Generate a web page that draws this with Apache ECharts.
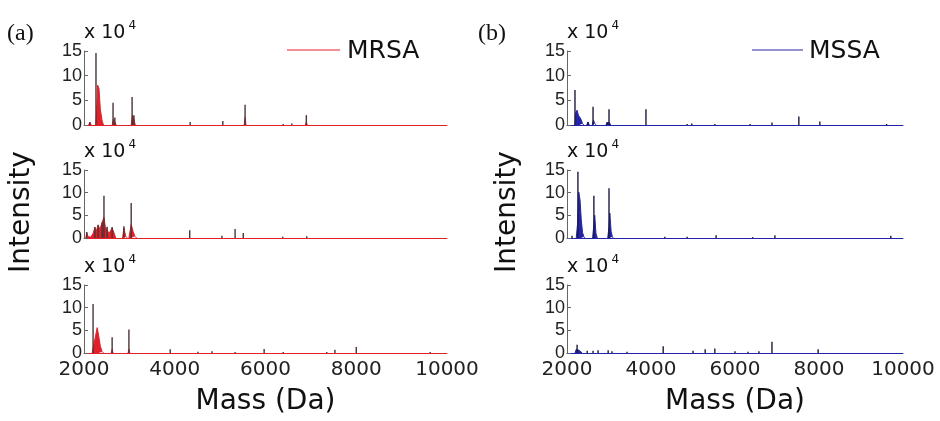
<!DOCTYPE html>
<html>
<head>
<meta charset="utf-8">
<script src="https://cdn.jsdelivr.net/npm/echarts@6/dist/echarts.min.js"></script>
<style>
html,body{margin:0;padding:0;background:#fff;}
#chart{width:940px;height:421px;}
</style>
</head>
<body>
<div id="chart"></div>
<script>
// ---- data (mass in Da, intensity in units of 1e4) ----
const xTicks = [2000, 4000, 6000, 8000, 10000];
const yTicks = [0, 5, 10, 15];
const panelLabels = ['(a)', '(b)'];
const seriesNames = ['MRSA', 'MSSA'];

// dark peak lines
const mrsa1Peaks = [[2130,0.6],[2264,14.6],[2640,4.5],[2680,1.5],[3060,5.7],[3100,2.0],[4340,0.6],[5060,0.8],[5550,4.1],[6390,0.2],[6580,0.3],[6900,2.0]];
const mrsa2Peaks = [[2060,1.3],[2240,2.4],[2310,2.9],[2400,3.5],[2440,9.3],[2510,2.5],[2620,2.4],[2880,2.6],[3040,7.7],[4330,1.7],[5040,0.5],[5330,2.0],[5510,1.1],[6380,0.3],[6910,0.4]];
const mrsa3Peaks = [[2200,10.8],[2620,3.5],[2990,5.2],[3900,0.8],[4510,0.3],[4820,0.4],[5330,0.2],[5970,0.9],[6390,0.2],[7350,0.2],[7530,0.7],[8000,1.3],[9630,0.2]];
const mssa1Peaks = [[2190,7.1],[2500,0.6],[2620,3.7],[2950,0.5],[3000,3.2],[3880,3.2],[4860,0.2],[4970,0.3],[5520,0.2],[6360,0.2],[6880,0.5],[7520,1.7],[8020,0.7],[9610,0.2]];
const mssa2Peaks = [[2120,0.5],[2260,14.6],[2640,9.3],[3000,11.0],[4330,0.3],[4860,0.3],[5550,0.6],[6420,0.2],[6950,0.6],[9710,0.5]];
const mssa3Peaks = [[2240,1.8],[2480,0.5],[2620,0.5],[2740,0.6],[2980,0.6],[3070,0.4],[3430,0.3],[4290,1.5],[5000,0.5],[5290,0.8],[5520,1.0],[6000,0.4],[6310,0.3],[6570,0.4],[6880,2.5],[7980,0.8]];

// coloured filled clusters of the spectra
const mrsa1Fill = [
  [[2100,0],[2130,0.5],[2160,0]],
  [[2260,0],[2280,3],[2300,8.1],[2330,7.4],[2360,3.2],[2400,0.8],[2430,0]],
  [[2620,0],[2650,1.2],[2680,1.5],[2710,0]],
  [[3040,0],[3070,2.0],[3100,1.2],[3130,0]],
  [[5530,0],[5550,1.5],[5570,0]],
  [[6880,0],[6900,0.6],[6920,0]]
];
const mrsa2Fill = [
  [[2040,0],[2060,1.2],[2090,0.3],[2150,0.2],[2200,1.0],[2240,2.3],[2270,1.5],[2310,2.8],[2350,2.0],[2400,3.4],[2440,4.6],[2470,2.5],[2510,2.4],[2550,1.0],[2590,0.8],[2620,2.2],[2660,1.2],[2700,0]],
  [[2850,0],[2880,2.2],[2920,0.3],[2960,0]],
  [[2990,0],[3040,3.0],[3080,1.5],[3120,0.4],[3160,0]]
];
const mrsa3Fill = [
  [[2180,0],[2210,1.5],[2250,3.5],[2290,5.6],[2320,4.0],[2360,1.5],[2400,0.3],[2430,0]],
  [[2600,0],[2620,0.8],[2640,0]],
  [[2970,0],[2990,0.8],[3010,0]]
];
const mssa1Fill = [
  [[2190,0],[2210,2.5],[2240,3.0],[2270,2.0],[2300,1.8],[2330,1.2],[2370,0.3],[2400,0]],
  [[2470,0],[2500,0.6],[2530,0]],
  [[2600,0],[2630,1.0],[2660,0.3],[2700,0]],
  [[2930,0],[2950,0.5],[2980,0.8],[3010,0.5],[3040,0]]
];
const mssa2Fill = [
  [[2220,0],[2250,3.0],[2280,10.1],[2310,8.4],[2340,4.0],[2370,1.2],[2400,0.3],[2420,0]],
  [[2610,0],[2640,3.0],[2660,5.0],[2690,1.0],[2720,0]],
  [[2970,0],[3000,2.5],[3020,5.5],[3050,1.5],[3080,0.3],[3100,0]]
];
const mssa3Fill = [
  [[2190,0],[2220,0.8],[2250,1.0],[2290,0.6],[2330,0.2],[2360,0]]
];

const peakSets = [mrsa1Peaks, mrsa2Peaks, mrsa3Peaks, mssa1Peaks, mssa2Peaks, mssa3Peaks];
const fillSets = [mrsa1Fill, mrsa2Fill, mrsa3Fill, mssa1Fill, mssa2Fill, mssa3Fill];

// ---- layout / style ----
const cols = [{left: 84, width: 363}, {left: 567, width: 336}];
const rows = [{top: 51, height: 74}, {top: 170, height: 68}, {top: 285, height: 68}];
const fillColors = ['#e3202a', '#2424a8'];
const stickColors = ['#4a3434', '#1c1c3c'];

const grid = [], xAxis = [], yAxis = [], series = [];
let gi = 0;
for (let c = 0; c < 2; c++) {
  for (let r = 0; r < 3; r++) {
    grid.push({left: cols[c].left, width: cols[c].width, top: rows[r].top, height: rows[r].height, containLabel: false});
    const bottom = r === 2;
    xAxis.push({
      gridIndex: gi, type: 'value', min: xTicks[0], max: xTicks[xTicks.length - 1], interval: 2000,
      axisLine: {show: true, lineStyle: {color: fillColors[c], width: 1}},
      axisTick: {show: false}, splitLine: {show: false},
      axisLabel: {show: bottom, fontFamily: 'DejaVu Sans', fontSize: 20, color: '#222', margin: 7,
        formatter: v => String(v)},
      name: bottom ? 'Mass (Da)' : '', nameLocation: 'middle', nameGap: 35,
      nameTextStyle: {fontFamily: 'DejaVu Sans', fontSize: 28, color: '#111'}
    });
    yAxis.push({
      gridIndex: gi, type: 'value', min: yTicks[0], max: yTicks[yTicks.length - 1], interval: 5,
      axisLine: {show: true, lineStyle: {color: '#666', width: 1}},
      axisTick: {show: true, inside: true, length: 4, lineStyle: {color: '#666'}},
      splitLine: {show: false},
      axisLabel: {fontFamily: 'Liberation Sans', fontSize: 18, color: '#222', margin: 2},
      name: '{a|x 10}{s|4}', nameLocation: 'end', nameGap: 6,
      nameTextStyle: {align: 'left', verticalAlign: 'bottom',
        rich: {a: {fontFamily: 'DejaVu Sans', fontSize: 19, color: '#111', lineHeight: 22, verticalAlign: 'bottom'},
               s: {fontFamily: 'DejaVu Sans', fontSize: 12, color: '#111', lineHeight: 22, verticalAlign: 'top', padding: [0, 0, 0, 3]}}}
    });
    fillSets[gi].forEach(cluster => {
      series.push({
        type: 'line', xAxisIndex: gi, yAxisIndex: gi, data: cluster, symbol: 'none', smooth: false,
        lineStyle: {color: fillColors[c], width: 1}, areaStyle: {color: fillColors[c], opacity: 1}, z: 2, animation: false
      });
    });
    series.push({
      type: 'bar', xAxisIndex: gi, yAxisIndex: gi, data: peakSets[gi], barWidth: 1.4,
      itemStyle: {color: stickColors[c]}, z: 3, animation: false
    });
    gi++;
  }
}

const graphic = [
  {type: 'text', left: 7, top: 22, style: {text: panelLabels[0], fontFamily: 'Liberation Serif', fontSize: 24, fill: '#111'}},
  {type: 'text', left: 478, top: 22, style: {text: panelLabels[1], fontFamily: 'Liberation Serif', fontSize: 24, fill: '#111'}},
  {type: 'line', shape: {x1: 287, y1: 50, x2: 340, y2: 50}, style: {stroke: fillColors[0], lineWidth: 1}},
  {type: 'text', x: 347, y: 51, style: {text: seriesNames[0], fontFamily: 'DejaVu Sans', fontSize: 25, fill: '#111', verticalAlign: 'middle'}},
  {type: 'line', shape: {x1: 752, y1: 50, x2: 803, y2: 50}, style: {stroke: fillColors[1], lineWidth: 1}},
  {type: 'text', x: 809, y: 51, style: {text: seriesNames[1], fontFamily: 'DejaVu Sans', fontSize: 25, fill: '#111', verticalAlign: 'middle'}},
  {type: 'text', x: 22, y: 212, rotation: Math.PI / 2, style: {text: 'Intensity', fontFamily: 'DejaVu Sans', fontSize: 28, fill: '#111', align: 'center', verticalAlign: 'middle'}},
  {type: 'text', x: 508, y: 212, rotation: Math.PI / 2, style: {text: 'Intensity', fontFamily: 'DejaVu Sans', fontSize: 28, fill: '#111', align: 'center', verticalAlign: 'middle'}}
];

const chart = echarts.init(document.getElementById('chart'), null, {renderer: 'canvas'});
chart.setOption({backgroundColor: '#fff', animation: false, grid, xAxis, yAxis, series, graphic});
</script>
</body>
</html>
